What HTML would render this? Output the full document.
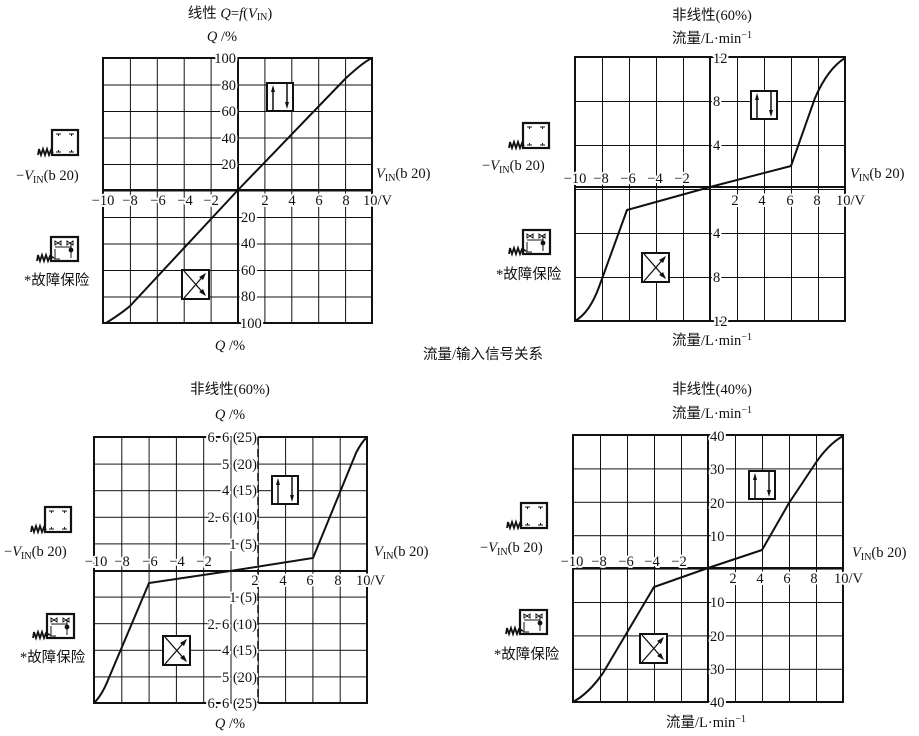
<!DOCTYPE html>
<html><head><meta charset="utf-8"><style>
html,body{margin:0;padding:0;background:#fff;}
svg{display:block;}
text{font-family:"Liberation Serif","Noto Serif CJK SC",serif;fill:#111;font-size:14.5px;}
.lb{stroke:#fff;stroke-width:4px;paint-order:stroke;stroke-linejoin:round;}
.cn{font-family:"Liberation Serif","Noto Sans CJK SC",serif;font-size:14.5px;}
</style></head><body>
<svg width="919" height="736" viewBox="0 0 919 736" xmlns="http://www.w3.org/2000/svg">
<defs>
<pattern id="g1" x="103" y="58" width="26.9" height="26.5" patternUnits="userSpaceOnUse"><path d="M0 0V26.5M0 0H26.9" stroke="#111" stroke-width="2" fill="none"/></pattern>
<pattern id="g2" x="575" y="57" width="27" height="44" patternUnits="userSpaceOnUse"><path d="M0 0V44M0 0H27" stroke="#111" stroke-width="2" fill="none"/></pattern>
<pattern id="g3" x="94" y="437" width="27.3" height="26.6" patternUnits="userSpaceOnUse"><path d="M0 0V26.6M0 0H27.3" stroke="#111" stroke-width="2" fill="none"/></pattern>
<pattern id="g4" x="573" y="435" width="27" height="33.4" patternUnits="userSpaceOnUse"><path d="M0 0V33.4M0 0H27" stroke="#111" stroke-width="2" fill="none"/></pattern>
<g id="ud"><rect x="0" y="0" width="26" height="28" fill="#fff" stroke="#111" stroke-width="2"/><path d="M6 27V5M20 1V23" stroke="#111" stroke-width="1.5"/><path d="M6 2L4 9H8Z M20 26L18 19H22Z" fill="#111"/></g>
<g id="xx"><rect x="0" y="0" width="27" height="29" fill="#fff" stroke="#111" stroke-width="2"/><path d="M2 28L23 4M2 1L23 25" stroke="#111" stroke-width="1.3"/><path d="M24 3L17 7L21 10Z M24 26L17 22L21 19Z" fill="#111"/></g>
<g id="ic1"><rect x="0" y="0" width="26" height="25" fill="#fff" stroke="#111" stroke-width="2.2"/><path d="M4 4H9M6.5 4V6M17 4H22M19.5 4V6M4 22H9M6.5 22V20M17 22H22M19.5 22V20" stroke="#111" stroke-width="1"/><path d="M-14 25L-13 19L-11 25L-9 19L-7 25L-5 19L-3 25L-1 20L1 23" stroke="#111" stroke-width="1.8" fill="none"/></g>
<g id="ic2"><rect x="0" y="0" width="27" height="24" fill="#fff" stroke="#111" stroke-width="2.2"/><path d="M4 4L10 8V4L4 8Z M16 4L22 8V4L16 8Z" stroke="#111" stroke-width="1" fill="none"/><path d="M4 10H20M20 6V21M4 12V22M3 22H9" stroke="#111" stroke-width="1"/><circle cx="20" cy="13" r="2.4" fill="#111"/><path d="M-14 24L-13 18L-11 24L-9 18L-7 24L-5 18L-3 24L-1 19L3 21" stroke="#111" stroke-width="1.8" fill="none"/></g>
</defs>

<!-- ===== Chart 1 ===== -->
<rect x="103" y="58" width="269" height="265" fill="url(#g1)"/>
<rect x="103" y="58" width="269" height="265" fill="none" stroke="#111" stroke-width="2"/>
<line x1="238" y1="58" x2="238" y2="323" stroke="#111" stroke-width="2"/>
<line x1="103" y1="190" x2="372" y2="190" stroke="#111" stroke-width="2"/>
<g class="lb" text-anchor="end">
<text x="236" y="63">100</text><text x="236" y="90">80</text><text x="236" y="116">60</text><text x="236" y="143">40</text><text x="236" y="169">20</text>
</g>
<g class="lb" text-anchor="start">
<text x="241" y="222">20</text><text x="241" y="248">40</text><text x="241" y="275">60</text><text x="241" y="301">80</text><text x="240" y="328">100</text>
</g>
<g class="lb" text-anchor="middle">
<text x="103" y="205">−10</text><text x="130" y="205">−8</text><text x="158" y="205">−6</text><text x="185" y="205">−4</text><text x="211" y="205">−2</text>
<text x="265" y="205">2</text><text x="292" y="205">4</text><text x="319" y="205">6</text><text x="346" y="205">8</text>
</g>
<text class="lb" x="363" y="205">10/V</text>
<path d="M106 323C114 318 122 313 130 306L238 190L346 78C356 69 364 62 372 58" stroke="#111" stroke-width="2" fill="none"/>
<use href="#ud" x="267" y="83"/>
<use href="#xx" x="182" y="270"/>
<text x="230" y="18" text-anchor="middle" class="cn">线性 <tspan font-style="italic">Q</tspan>=<tspan font-style="italic">f</tspan>(<tspan font-style="italic">V</tspan><tspan font-size="10" dy="2">IN</tspan><tspan dy="-2">)</tspan></text>
<text x="222" y="41" text-anchor="middle"><tspan font-style="italic">Q</tspan> /%</text>
<text x="230" y="350" text-anchor="middle"><tspan font-style="italic">Q</tspan> /%</text>
<use href="#ic1" x="52" y="130"/>
<text x="16" y="180">−<tspan font-style="italic">V</tspan><tspan font-size="10" dy="3">IN</tspan><tspan dy="-3">(b 20)</tspan></text>
<text x="376" y="178"><tspan font-style="italic">V</tspan><tspan font-size="10" dy="3">IN</tspan><tspan dy="-3">(b 20)</tspan></text>
<use href="#ic2" x="51" y="237"/>
<text x="24" y="285" class="cn">*故障保险</text>

<text x="483" y="359" text-anchor="middle" class="cn">流量/输入信号关系</text>

<!-- ===== Chart 2 ===== -->
<rect x="575" y="57" width="270" height="264" fill="url(#g2)"/>
<rect x="575" y="57" width="270" height="264" fill="none" stroke="#111" stroke-width="2"/>
<line x1="710" y1="57" x2="710" y2="321" stroke="#111" stroke-width="2"/>
<line x1="575" y1="187" x2="845" y2="187" stroke="#111" stroke-width="2"/>
<g class="lb" text-anchor="start">
<text x="713" y="63">12</text><text x="713" y="106">8</text><text x="713" y="150">4</text>
<text x="713" y="238">4</text><text x="713" y="282">8</text><text x="713" y="326">12</text>
</g>
<g class="lb" text-anchor="middle">
<text x="575" y="183">−10</text><text x="601" y="183">−8</text><text x="628" y="183">−6</text><text x="655" y="183">−4</text><text x="682" y="183">−2</text>
<text x="735" y="205">2</text><text x="762" y="205">4</text><text x="790" y="205">6</text><text x="817" y="205">8</text>
</g>
<text class="lb" x="836" y="205">10/V</text>
<path d="M575 321C584 316 592 306 599 287L627 210L710 187L791 166L815 98C822 82 832 66 845 58" stroke="#111" stroke-width="2" fill="none"/>
<use href="#ud" x="751" y="91"/>
<use href="#xx" x="642" y="253"/>
<text x="712" y="20" text-anchor="middle" class="cn">非线性(60%)</text>
<text x="712" y="43" text-anchor="middle" class="cn">流量/L·min<tspan font-size="10" dy="-5">−1</tspan></text>
<text x="712" y="345" text-anchor="middle" class="cn">流量/L·min<tspan font-size="10" dy="-5">−1</tspan></text>
<use href="#ic1" x="523" y="123"/>
<text x="482" y="170">−<tspan font-style="italic">V</tspan><tspan font-size="10" dy="3">IN</tspan><tspan dy="-3">(b 20)</tspan></text>
<text x="850" y="178"><tspan font-style="italic">V</tspan><tspan font-size="10" dy="3">IN</tspan><tspan dy="-3">(b 20)</tspan></text>
<use href="#ic2" x="523" y="230"/>
<text x="496" y="279" class="cn">*故障保险</text>

<!-- ===== Chart 3 ===== -->
<rect x="94" y="437" width="273" height="266" fill="url(#g3)"/>
<rect x="94" y="437" width="273" height="266" fill="none" stroke="#111" stroke-width="2"/>
<line x1="94" y1="571" x2="367" y2="571" stroke="#111" stroke-width="2"/>
<g class="lb" text-anchor="end">
<text x="257" y="442">6. 6 (25)</text><text x="257" y="469">5 (20)</text><text x="257" y="495">4 (15)</text><text x="257" y="522">2. 6 (10)</text><text x="257" y="549">1 (5)</text>
<text x="257" y="602">1 (5)</text><text x="257" y="629">2. 6 (10)</text><text x="257" y="655">4 (15)</text><text x="257" y="682">5 (20)</text><text x="257" y="708">6. 6 (25)</text>
</g>
<line x1="258" y1="437" x2="258" y2="703" stroke="#111" stroke-width="1.5" stroke-dasharray="8 4"/>
<g class="lb" text-anchor="middle">
<text x="96" y="566">−10</text><text x="122" y="566">−8</text><text x="150" y="566">−6</text><text x="177" y="566">−4</text><text x="204" y="566">−2</text>
<text x="255" y="585">2</text><text x="283" y="585">4</text><text x="310" y="585">6</text><text x="338" y="585">8</text>
</g>
<text class="lb" x="356" y="585">10/V</text>
<path d="M94 703C99 698 104 690 108 680L149 583L230 571L313 558L338 497L356 453C360 445 363 441 367 437" stroke="#111" stroke-width="2" fill="none"/>
<use href="#ud" x="272" y="476"/>
<use href="#xx" x="163" y="636"/>
<text x="230" y="394" text-anchor="middle" class="cn">非线性(60%)</text>
<text x="230" y="419" text-anchor="middle"><tspan font-style="italic">Q</tspan> /%</text>
<text x="230" y="728" text-anchor="middle"><tspan font-style="italic">Q</tspan> /%</text>
<use href="#ic1" x="45" y="507"/>
<text x="4" y="556">−<tspan font-style="italic">V</tspan><tspan font-size="10" dy="3">IN</tspan><tspan dy="-3">(b 20)</tspan></text>
<text x="374" y="556"><tspan font-style="italic">V</tspan><tspan font-size="10" dy="3">IN</tspan><tspan dy="-3">(b 20)</tspan></text>
<use href="#ic2" x="47" y="614"/>
<text x="20" y="662" class="cn">*故障保险</text>

<!-- ===== Chart 4 ===== -->
<rect x="573" y="435" width="270" height="267" fill="url(#g4)"/>
<rect x="573" y="435" width="270" height="267" fill="none" stroke="#111" stroke-width="2"/>
<line x1="708" y1="435" x2="708" y2="702" stroke="#111" stroke-width="2"/>
<line x1="573" y1="568" x2="843" y2="568" stroke="#111" stroke-width="2"/>
<g class="lb" text-anchor="start">
<text x="710" y="441">40</text><text x="710" y="474">30</text><text x="710" y="508">20</text><text x="710" y="541">10</text>
<text x="710" y="607">10</text><text x="710" y="641">20</text><text x="710" y="674">30</text><text x="710" y="707">40</text>
</g>
<g class="lb" text-anchor="middle">
<text x="572" y="566">−10</text><text x="599" y="566">−8</text><text x="626" y="566">−6</text><text x="652" y="566">−4</text><text x="679" y="566">−2</text>
<text x="733" y="583">2</text><text x="760" y="583">4</text><text x="787" y="583">6</text><text x="814" y="583">8</text>
</g>
<text class="lb" x="834" y="583">10/V</text>
<path d="M573 702C584 696 594 686 603 673L654 587L708 568L762 550L789 503L813 467C822 453 832 442 843 436" stroke="#111" stroke-width="2" fill="none"/>
<use href="#ud" x="749" y="471"/>
<use href="#xx" x="640" y="634"/>
<text x="712" y="394" text-anchor="middle" class="cn">非线性(40%)</text>
<text x="712" y="418" text-anchor="middle" class="cn">流量/L·min<tspan font-size="10" dy="-5">−1</tspan></text>
<text x="706" y="727" text-anchor="middle" class="cn">流量/L·min<tspan font-size="10" dy="-5">−1</tspan></text>
<use href="#ic1" x="521" y="503"/>
<text x="480" y="552">−<tspan font-style="italic">V</tspan><tspan font-size="10" dy="3">IN</tspan><tspan dy="-3">(b 20)</tspan></text>
<text x="852" y="557"><tspan font-style="italic">V</tspan><tspan font-size="10" dy="3">IN</tspan><tspan dy="-3">(b 20)</tspan></text>
<use href="#ic2" x="520" y="610"/>
<text x="494" y="659" class="cn">*故障保险</text>
</svg>
</body></html>
